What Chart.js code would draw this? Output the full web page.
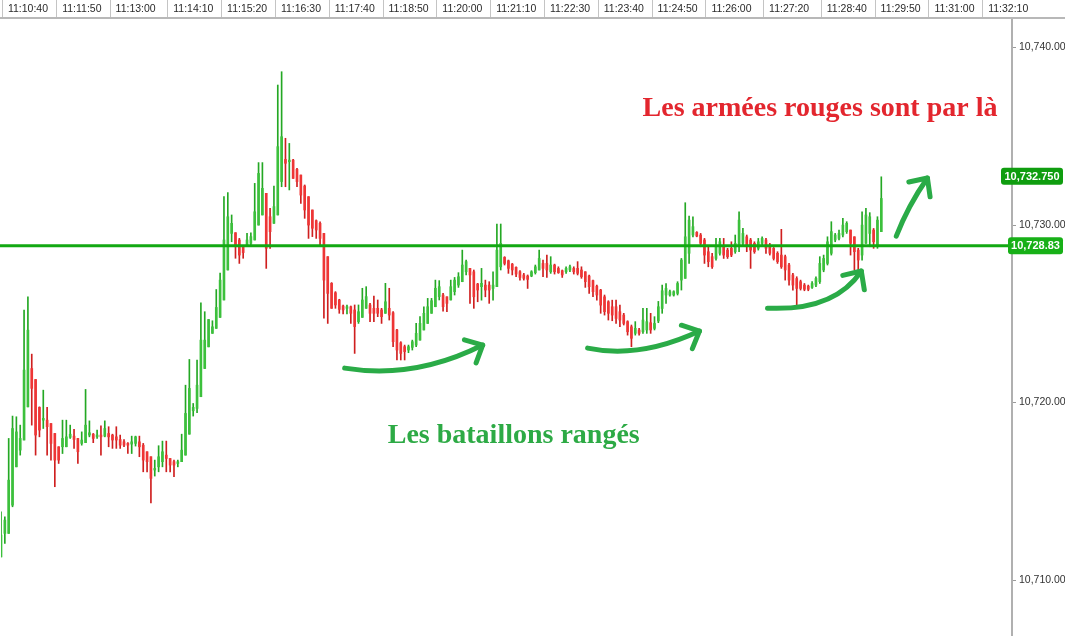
<!DOCTYPE html>
<html>
<head>
<meta charset="utf-8">
<script src="https://cdn.jsdelivr.net/npm/chart.js@4.4.1/dist/chart.umd.min.js"></script>
<style>
  html, body { margin: 0; padding: 0; background: #fff; }
  #wrap { width: 1065px; height: 636px; }
</style>
</head>
<body>
<div id="wrap"><canvas id="priceChart" width="1065" height="636"></canvas></div>
<script>
// 5 second bars
const opens = [
  10711.31, 10712.63, 10712.63, 10714.22, 10716.38, 10717.32, 10717.89, 10719.76, 10721.92, 10721.30,
  10719.73, 10719.01, 10719.01, 10718.82, 10718.26, 10717.51, 10717.51, 10717.51, 10718.04, 10718.11,
  10717.98, 10717.70, 10717.74, 10718.17, 10718.22, 10718.07, 10718.17, 10718.11, 10718.26, 10718.17,
  10718.07, 10717.92, 10717.79, 10717.70, 10717.66, 10717.70, 10717.79, 10717.60, 10717.23, 10716.95,
  10716.20, 10716.38, 10716.67, 10717.04, 10716.85, 10716.67, 10716.57, 10716.67, 10717.04, 10718.22,
  10719.54, 10719.67, 10720.33, 10721.92, 10723.14, 10723.90, 10724.18, 10724.80, 10725.78, 10727.47,
  10729.53, 10729.57, 10729.16, 10728.78, 10728.88, 10728.97, 10729.16, 10730.00, 10730.57, 10731.79,
  10730.47, 10730.10, 10730.57, 10732.45, 10733.70, 10733.57, 10733.66, 10733.14, 10732.82, 10732.20,
  10731.60, 10730.85, 10730.25, 10730.10, 10729.53, 10728.22, 10726.72, 10726.19, 10725.78, 10725.44,
  10725.31, 10725.40, 10725.22, 10724.56, 10724.80, 10725.31, 10725.50, 10725.31, 10725.31, 10725.22,
  10725.03, 10725.31, 10725.06, 10724.09, 10723.37, 10723.15, 10722.96, 10723.11, 10723.24, 10723.52,
  10724.09, 10724.46, 10725.03, 10725.40, 10725.97, 10726.06, 10725.96, 10725.78, 10726.25, 10726.62,
  10726.81, 10727.37, 10727.56, 10727.37, 10726.68, 10726.53, 10726.62, 10726.62, 10726.43, 10726.53,
  10727.65, 10728.18, 10727.99, 10727.80, 10727.62, 10727.37, 10727.19, 10727.13, 10727.13, 10727.32,
  10727.47, 10727.84, 10727.84, 10727.37, 10727.75, 10727.56, 10727.43, 10727.37, 10727.47, 10727.56,
  10727.56, 10727.47, 10727.37, 10727.13, 10726.87, 10726.56, 10726.34, 10725.96, 10725.68, 10725.40,
  10725.40, 10725.12, 10724.93, 10724.56, 10724.27, 10723.90, 10724.09, 10723.99, 10724.09, 10724.50,
  10724.18, 10724.60, 10725.30, 10726.06, 10726.06, 10726.06, 10726.15, 10726.90, 10727.00, 10728.41,
  10729.44, 10729.59, 10729.44, 10729.16, 10728.50, 10728.22, 10728.12, 10728.41, 10728.78, 10728.59,
  10728.69, 10728.50, 10728.87, 10728.97, 10729.34, 10729.16, 10728.97, 10728.69, 10728.97, 10729.16,
  10728.87, 10728.69, 10728.41, 10728.31, 10728.22, 10727.75, 10727.19, 10726.99, 10726.81, 10726.62,
  10726.56, 10726.49, 10726.62, 10726.81, 10727.47, 10727.84, 10728.41, 10729.16, 10729.25, 10729.44,
  10729.63, 10729.72, 10729.34, 10728.59, 10728.31, 10728.97, 10729.53, 10729.72, 10728.78, 10729.63
];
const highs = [
  10713.85, 10713.57, 10717.98, 10719.24, 10719.20, 10718.73, 10725.21, 10725.96, 10722.73, 10721.30,
  10719.76, 10720.70, 10719.73, 10718.82, 10718.26, 10717.51, 10719.01, 10719.01, 10718.73, 10718.49,
  10717.98, 10718.35, 10720.74, 10718.97, 10718.26, 10718.45, 10718.69, 10718.97, 10718.64, 10718.22,
  10718.64, 10718.17, 10717.92, 10717.74, 10718.11, 10718.11, 10718.11, 10717.70, 10717.23, 10716.95,
  10716.76, 10717.57, 10717.83, 10717.83, 10716.85, 10716.76, 10716.76, 10718.22, 10720.98, 10722.43,
  10719.95, 10722.39, 10725.62, 10725.12, 10724.68, 10724.61, 10726.37, 10727.30, 10731.60, 10731.83,
  10730.57, 10729.57, 10729.25, 10728.82, 10729.53, 10729.57, 10732.35, 10733.52, 10733.52, 10731.79,
  10730.94, 10732.20, 10737.89, 10738.64, 10734.89, 10734.60, 10733.70, 10733.20, 10732.82, 10732.26,
  10731.60, 10730.85, 10730.29, 10730.19, 10729.53, 10728.22, 10726.76, 10726.25, 10725.82, 10725.50,
  10725.50, 10725.44, 10725.50, 10725.50, 10726.44, 10726.53, 10725.59, 10726.00, 10725.78, 10725.31,
  10726.72, 10726.44, 10725.12, 10724.13, 10723.43, 10723.24, 10723.24, 10723.52, 10724.46, 10724.84,
  10725.40, 10725.87, 10725.87, 10726.90, 10726.87, 10726.15, 10725.96, 10726.90, 10727.05, 10727.32,
  10728.59, 10728.03, 10727.56, 10727.47, 10726.72, 10727.56, 10726.90, 10726.81, 10727.37, 10730.06,
  10730.06, 10728.22, 10728.03, 10727.84, 10727.65, 10727.43, 10727.28, 10727.19, 10727.43, 10727.75,
  10728.59, 10728.03, 10728.31, 10728.22, 10727.80, 10727.65, 10727.47, 10727.65, 10727.75, 10727.65,
  10727.94, 10727.65, 10727.37, 10727.19, 10726.90, 10726.62, 10726.38, 10726.06, 10725.74, 10725.77,
  10725.77, 10725.49, 10725.03, 10724.61, 10724.37, 10724.56, 10724.18, 10725.31, 10725.31, 10725.03,
  10724.84, 10725.70, 10726.62, 10726.71, 10726.34, 10726.30, 10726.81, 10728.12, 10731.26, 10730.51,
  10730.47, 10729.63, 10729.53, 10729.25, 10728.78, 10728.41, 10729.25, 10729.25, 10729.25, 10728.69,
  10729.06, 10729.44, 10730.75, 10729.81, 10729.44, 10729.25, 10729.06, 10729.25, 10729.34, 10729.25,
  10728.97, 10728.74, 10728.50, 10729.76, 10728.31, 10727.84, 10727.28, 10727.09, 10726.90, 10726.71,
  10726.62, 10726.81, 10727.09, 10728.22, 10728.31, 10729.34, 10730.19, 10729.53, 10729.72, 10730.38,
  10730.19, 10729.72, 10729.34, 10728.69, 10730.75, 10730.94, 10730.70, 10729.81, 10730.47, 10732.72
];
const lows = [
  10711.31, 10712.06, 10712.63, 10714.13, 10716.38, 10717.04, 10717.89, 10719.76, 10718.73, 10717.04,
  10718.07, 10718.54, 10717.04, 10716.76, 10715.26, 10716.57, 10717.13, 10717.51, 10717.98, 10717.42,
  10716.57, 10717.60, 10717.74, 10718.07, 10717.74, 10717.98, 10717.04, 10718.07, 10717.51, 10717.42,
  10717.42, 10717.42, 10717.51, 10717.13, 10717.13, 10717.55, 10716.95, 10716.10, 10716.10, 10714.35,
  10715.86, 10716.10, 10716.38, 10716.10, 10716.10, 10715.82, 10716.38, 10716.67, 10717.04, 10718.22,
  10719.24, 10719.43, 10720.33, 10721.92, 10723.14, 10723.90, 10724.18, 10724.80, 10725.78, 10727.47,
  10729.06, 10728.13, 10727.84, 10728.13, 10728.78, 10728.88, 10729.16, 10730.00, 10730.57, 10727.56,
  10728.69, 10730.10, 10730.57, 10732.16, 10732.16, 10731.98, 10732.63, 10732.16, 10731.22, 10730.38,
  10729.25, 10729.35, 10729.25, 10728.78, 10724.75, 10724.46, 10725.31, 10725.31, 10725.03, 10724.99,
  10724.99, 10724.46, 10722.77, 10724.46, 10724.80, 10725.31, 10724.56, 10724.56, 10724.84, 10724.46,
  10725.03, 10724.65, 10723.15, 10722.40, 10722.40, 10722.40, 10722.81, 10722.96, 10723.15, 10723.52,
  10724.09, 10724.46, 10725.03, 10725.40, 10725.78, 10725.15, 10725.12, 10725.78, 10726.06, 10726.49,
  10726.81, 10727.19, 10725.59, 10725.31, 10725.68, 10725.77, 10725.96, 10725.59, 10725.77, 10726.53,
  10727.47, 10727.75, 10727.28, 10727.19, 10727.09, 10726.90, 10726.90, 10726.43, 10727.09, 10727.24,
  10727.47, 10727.09, 10727.05, 10727.28, 10727.24, 10727.28, 10727.05, 10727.28, 10727.37, 10727.24,
  10727.19, 10727.00, 10726.49, 10726.15, 10725.96, 10725.77, 10725.03, 10724.93, 10724.65, 10724.61,
  10724.46, 10724.27, 10724.37, 10723.80, 10723.15, 10723.80, 10723.80, 10723.90, 10723.90, 10723.90,
  10724.09, 10724.50, 10725.03, 10725.59, 10726.00, 10726.00, 10726.06, 10726.34, 10727.00, 10727.84,
  10729.34, 10729.34, 10728.78, 10727.84, 10727.65, 10727.56, 10728.03, 10728.31, 10728.12, 10728.12,
  10728.22, 10728.41, 10728.50, 10728.78, 10728.50, 10727.56, 10728.41, 10728.59, 10728.87, 10728.41,
  10728.31, 10728.03, 10727.84, 10727.56, 10726.90, 10726.62, 10726.34, 10725.40, 10726.34, 10726.30,
  10726.30, 10726.43, 10726.53, 10726.71, 10727.37, 10727.75, 10728.31, 10729.06, 10729.16, 10729.34,
  10729.53, 10728.31, 10727.47, 10727.47, 10728.03, 10728.97, 10728.78, 10728.69, 10728.69, 10729.63
];
const closes = [
  10712.53, 10713.38, 10715.63, 10718.54, 10718.35, 10717.98, 10721.83, 10724.08, 10720.80, 10718.17,
  10718.45, 10719.11, 10718.64, 10717.70, 10716.76, 10716.76, 10717.98, 10718.07, 10718.22, 10717.92,
  10717.23, 10717.89, 10718.73, 10718.30, 10717.98, 10718.17, 10718.07, 10718.54, 10718.07, 10717.89,
  10717.89, 10717.60, 10717.60, 10717.60, 10717.79, 10718.07, 10717.51, 10716.76, 10716.67, 10715.73,
  10716.29, 10716.95, 10717.23, 10716.85, 10716.48, 10716.48, 10716.67, 10717.32, 10719.39, 10720.80,
  10719.73, 10720.98, 10723.52, 10723.52, 10724.68, 10724.27, 10725.36, 10726.90, 10729.16, 10730.47,
  10730.10, 10728.78, 10728.31, 10728.45, 10729.16, 10729.35, 10730.75, 10732.91, 10732.07, 10728.69,
  10729.63, 10731.04, 10734.42, 10734.98, 10733.48, 10733.66, 10732.63, 10732.45, 10731.69, 10730.85,
  10730.00, 10729.82, 10729.72, 10729.25, 10726.90, 10726.15, 10725.31, 10725.50, 10725.25, 10725.22,
  10725.40, 10725.03, 10724.28, 10725.12, 10725.78, 10725.97, 10725.03, 10725.03, 10725.03, 10724.84,
  10725.68, 10724.93, 10723.43, 10722.96, 10722.77, 10722.87, 10723.15, 10723.43, 10723.90, 10724.46,
  10725.03, 10725.40, 10725.74, 10726.44, 10726.53, 10725.40, 10725.59, 10726.53, 10726.90, 10727.09,
  10727.75, 10727.94, 10727.19, 10725.96, 10726.34, 10726.72, 10726.34, 10726.34, 10726.62, 10728.59,
  10728.97, 10727.84, 10727.56, 10727.47, 10727.24, 10727.05, 10727.00, 10726.94, 10727.37, 10727.65,
  10728.12, 10727.56, 10727.47, 10727.75, 10727.37, 10727.32, 10727.19, 10727.56, 10727.65, 10727.37,
  10727.28, 10727.09, 10726.81, 10726.53, 10726.25, 10726.06, 10725.49, 10725.12, 10725.03, 10724.93,
  10724.74, 10724.65, 10724.46, 10723.99, 10723.62, 10724.18, 10723.90, 10724.65, 10724.56, 10724.09,
  10724.46, 10725.40, 10726.30, 10726.43, 10726.25, 10726.25, 10726.71, 10728.03, 10729.34, 10730.28,
  10729.91, 10729.38, 10728.97, 10728.31, 10727.94, 10727.65, 10728.78, 10729.06, 10728.31, 10728.22,
  10728.31, 10728.97, 10730.28, 10729.53, 10728.78, 10728.59, 10728.50, 10729.06, 10729.25, 10728.69,
  10728.41, 10728.12, 10727.94, 10727.65, 10727.47, 10726.90, 10726.62, 10726.43, 10726.43, 10726.38,
  10726.38, 10726.71, 10726.99, 10727.84, 10728.12, 10729.06, 10729.63, 10729.44, 10729.53, 10730.00,
  10730.10, 10728.97, 10728.50, 10728.03, 10730.00, 10730.57, 10730.47, 10729.06, 10730.28, 10731.50
];

const timeTicks = ['11:10:40', '11:11:50', '11:13:00', '11:14:10', '11:15:20', '11:16:30', '11:17:40',
  '11:18:50', '11:20:00', '11:21:10', '11:22:30', '11:23:40', '11:24:50', '11:26:00', '11:27:20',
  '11:28:40', '11:29:50', '11:31:00', '11:32:10'];
const timeTickIndex = [0, 14, 28, 43, 57, 71, 85, 99, 113, 127, 141, 155, 169, 183, 198, 213, 227, 241, 255];
const yTicks = [10710, 10720, 10730, 10740];
const slotCount = 264;
const levelLine = 10728.83;
const lastPrice = 10732.75;

// annotations, in bar index / price units
const arrowPaths = [
  [[89.4, 10721.94], [107.6, 10721.30], [125.3, 10723.24]],
  [[152.6, 10723.07], [166.1, 10722.45], [181.7, 10724.03]],
  [[199.4, 10725.32], [216.8, 10725.15], [223.8, 10727.41]],
  [[232.9, 10729.38], [236.0, 10731.10], [241.0, 10732.65]]
];
const notes = [
  { text: 'Les armées rouges sont par là', at: [166.9, 10736.14], color: '#e3262e' },
  { text: 'Les bataillons rangés', at: [100.6, 10717.72], color: '#2daa45' }
];

const GREEN = '#24a824', GREEN_BODY = '#3cc03c', RED = '#cf1f1f', RED_BODY = '#ee3535';
const isUp = i => closes[i] >= opens[i];

const fmt = v => v.toLocaleString('en-US', { minimumFractionDigits: 2, maximumFractionDigits: 2 });

const overlay = {
  id: 'overlay',
  afterDatasetsDraw(chart) {
    const { ctx, chartArea, scales: { x, y } } = chart;
    ctx.save();
    // time band: separators and bottom rule
    ctx.strokeStyle = '#c4c4c4';
    ctx.lineWidth = 1;
    timeTickIndex.forEach(i => {
      const px = Math.round(x.getPixelForValue(i)) + 1.5;
      ctx.beginPath();
      ctx.moveTo(px, 0);
      ctx.lineTo(px, chartArea.top - 1);
      ctx.stroke();
    });
    ctx.strokeStyle = '#b8b8b8';
    ctx.lineWidth = 2;
    ctx.beginPath();
    ctx.moveTo(0, chartArea.top - 1);
    ctx.lineTo(chart.width, chartArea.top - 1);
    ctx.stroke();

    // horizontal level
    const ly = y.getPixelForValue(levelLine);
    ctx.strokeStyle = '#12a812';
    ctx.lineWidth = 3;
    ctx.beginPath();
    ctx.moveTo(0, ly);
    ctx.lineTo(chartArea.right, ly);
    ctx.stroke();

    // hand drawn arrows
    ctx.strokeStyle = '#2aab47';
    ctx.lineWidth = 5;
    ctx.lineCap = 'round';
    ctx.lineJoin = 'round';
    arrowPaths.forEach(p => {
      const pts = p.map(([i, v]) => [x.getPixelForValue(i), y.getPixelForValue(v)]);
      ctx.beginPath();
      ctx.moveTo(pts[0][0], pts[0][1]);
      ctx.quadraticCurveTo(pts[1][0], pts[1][1], pts[2][0], pts[2][1]);
      ctx.stroke();
      const ang = Math.atan2(pts[2][1] - pts[1][1], pts[2][0] - pts[1][0]);
      const len = 19;
      ctx.beginPath();
      ctx.moveTo(pts[2][0] - len * Math.cos(ang - 0.75), pts[2][1] - len * Math.sin(ang - 0.75));
      ctx.lineTo(pts[2][0], pts[2][1]);
      ctx.lineTo(pts[2][0] - len * Math.cos(ang + 0.75), pts[2][1] - len * Math.sin(ang + 0.75));
      ctx.stroke();
    });

    // captions
    ctx.font = 'bold 28px "Liberation Serif", "DejaVu Serif", serif';
    ctx.textBaseline = 'alphabetic';
    ctx.textAlign = 'left';
    notes.forEach(n => {
      ctx.fillStyle = n.color;
      ctx.fillText(n.text, x.getPixelForValue(n.at[0]), y.getPixelForValue(n.at[1]));
    });
    ctx.restore();
  },
  afterDraw(chart) {
    const { ctx, chartArea, scales: { y } } = chart;
    ctx.save();
    ctx.font = 'bold 11px Arial, "Liberation Sans", sans-serif';
    ctx.textBaseline = 'middle';
    ctx.textAlign = 'center';
    const boxes = [
      { v: lastPrice, txt: '10,732.750', left: chartArea.right - 11, w: 62, bg: '#0f9d0f' },
      { v: levelLine, txt: '10,728.83', left: chartArea.right - 4, w: 55, bg: '#17b017' }
    ];
    boxes.forEach(b => {
      const cy = y.getPixelForValue(b.v);
      ctx.fillStyle = b.bg;
      ctx.beginPath();
      ctx.roundRect(b.left, cy - 8.5, b.w, 17, 3);
      ctx.fill();
      ctx.fillStyle = '#fff';
      ctx.fillText(b.txt, b.left + b.w / 2, cy + 0.5);
    });
    ctx.restore();
  }
};

const ctx = document.getElementById('priceChart').getContext('2d');
const priceChart = new Chart(ctx, {
  type: 'bar',
  data: {
    labels: Array.from({ length: slotCount }, (_, i) => i),
    datasets: [{
      label: 'High-Low',
      data: lows.map((l, i) => [l, highs[i]]),
      backgroundColor: lows.map((_, i) => isUp(i) ? GREEN : RED),
      barThickness: 1,
      grouped: false,
      order: 2
    }, {
      label: 'Open-Close',
      data: opens.map((o, i) => [o, closes[i]]),
      backgroundColor: opens.map((_, i) => isUp(i) ? GREEN_BODY : RED_BODY),
      barThickness: 2,
      minBarLength: 1,
      grouped: false,
      order: 1
    }]
  },
  options: {
    responsive: false,
    animation: false,
    devicePixelRatio: 1,
    layout: { padding: { left: 1, top: 0, right: 0, bottom: 0 } },
    plugins: {
      legend: { display: false },
      tooltip: { enabled: false }
    },
    scales: {
      x: {
        type: 'category',
        position: 'top',
        offset: false,
        grid: { drawOnChartArea: false, tickLength: 19, color: 'rgba(0,0,0,0)' },
        border: { display: false },
        ticks: {
          autoSkip: false,
          maxRotation: 0,
          minRotation: 0,
          padding: -15,
          labelOffset: 27,
          color: '#2a2a2a',
          font: { family: 'Arial, "Liberation Sans", sans-serif', size: 10.5 },
          callback: (v, i) => {
            const k = timeTickIndex.indexOf(i);
            return k >= 0 ? timeTicks[k] : null;
          }
        },
        afterFit: s => { s.height = 19; s.paddingLeft = 0; s.paddingRight = 0; }
      },
      y: {
        position: 'right',
        min: 10706.85,
        max: 10741.61,
        afterBuildTicks: s => { s.ticks = yTicks.map(v => ({ value: v })); },
        grid: { drawOnChartArea: false, tickLength: 4, color: '#9a9a9a' },
        border: { display: true, color: '#b0b0b0', width: 2 },
        ticks: {
          padding: 3,
          color: '#333',
          font: { family: 'Arial, "Liberation Sans", sans-serif', size: 10.5 },
          callback: v => fmt(v)
        },
        afterFit: s => { s.width = 53; s.paddingTop = 0; s.paddingBottom = 0; }
      }
    }
  },
  plugins: [overlay]
});
</script>
</body>
</html>
